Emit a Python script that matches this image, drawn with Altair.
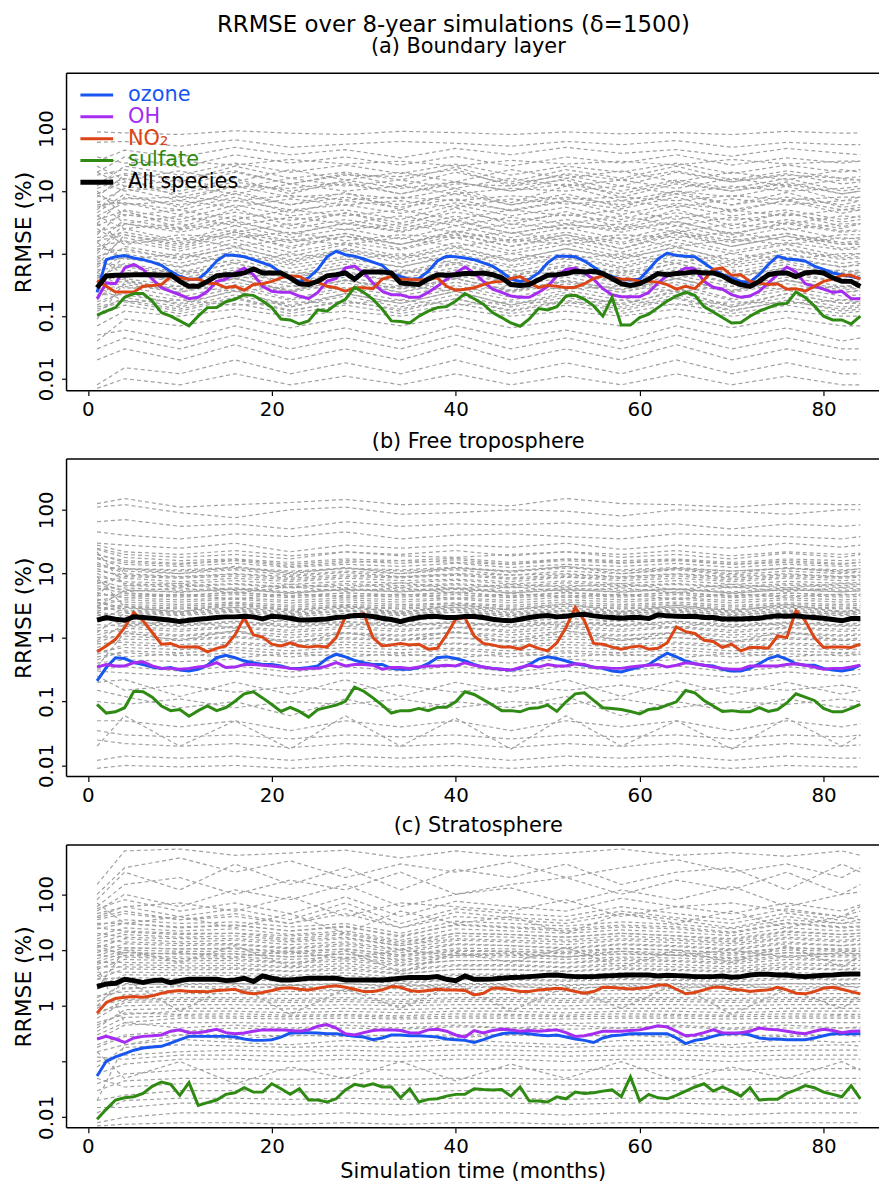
import altair as alt
import pandas as pd

FONT = "DejaVu Sans"
MONTHS = list(range(1, 85))
GRAY_MONTHS = [1, 4, 10, 16, 22, 28, 34, 40, 46, 52, 58, 64, 70, 76, 82, 84]
X_TICKS = [0, 20, 40, 60, 80]
Y_TICKS = [0.01, 0.1, 1, 10, 100]
LEGEND_LABELS = ["ozone", "OH", "NO₂", "sulfate", "All species"]
COLORS = ["#1756f0", "#a52cf0", "#dc4516", "#2e8a12", "#000000"]
LINE_WIDTHS = [3, 3, 3, 3, 5]
TITLE = "RRMSE over 8-year simulations (δ=1500)"
PANEL_TITLES = ["(a) Boundary layer", "(b) Free troposphere", "(c) Stratosphere"]
X_TITLE = "Simulation time (months)"
Y_TITLE = "RRMSE (%)"

# ---------------- (a) Boundary layer ----------------
A_OZONE = [0.24,0.80,0.89,0.93,0.85,0.80,0.73,0.65,0.52,0.43,0.39,0.39,
           0.52,0.76,0.96,0.93,0.89,0.80,0.71,0.63,0.49,0.41,0.36,0.41,
           0.56,0.89,1.09,0.96,0.91,0.82,0.73,0.65,0.48,0.43,0.39,0.40,
           0.52,0.76,0.91,0.89,0.85,0.80,0.71,0.63,0.51,0.39,0.36,0.39,
           0.49,0.71,0.91,0.91,0.89,0.76,0.61,0.48,0.43,0.39,0.38,0.39,
           0.56,0.82,1.02,0.93,0.91,0.89,0.71,0.56,0.46,0.41,0.36,0.35,
           0.46,0.67,0.91,0.82,0.80,0.76,0.63,0.56,0.49,0.46,0.43,0.40]
A_OH = [0.19,0.34,0.33,0.59,0.67,0.56,0.39,0.285,0.25,0.22,0.19,0.20,
        0.25,0.36,0.39,0.49,0.59,0.46,0.30,0.25,0.24,0.24,0.21,0.19,
        0.24,0.36,0.40,0.59,0.63,0.49,0.34,0.25,0.22,0.22,0.20,0.20,
        0.24,0.30,0.39,0.49,0.61,0.49,0.36,0.27,0.24,0.21,0.20,0.20,
        0.24,0.30,0.44,0.56,0.59,0.49,0.39,0.275,0.22,0.205,0.205,0.205,
        0.24,0.34,0.44,0.49,0.59,0.57,0.36,0.29,0.27,0.22,0.20,0.21,
        0.25,0.34,0.46,0.61,0.51,0.33,0.30,0.27,0.24,0.25,0.19,0.19]
A_NO2 = [0.37,0.30,0.243,0.243,0.243,0.30,0.31,0.32,0.43,0.41,0.39,0.39,
         0.34,0.33,0.285,0.30,0.26,0.32,0.33,0.36,0.41,0.44,0.43,0.36,
         0.35,0.30,0.285,0.25,0.285,0.285,0.275,0.39,0.43,0.39,0.39,0.38,
         0.39,0.41,0.30,0.26,0.27,0.285,0.32,0.35,0.36,0.40,0.43,0.35,
         0.285,0.31,0.30,0.285,0.29,0.33,0.40,0.44,0.41,0.39,0.39,0.36,
         0.36,0.35,0.32,0.27,0.30,0.275,0.38,0.56,0.59,0.45,0.46,0.36,
         0.34,0.32,0.33,0.27,0.275,0.25,0.30,0.36,0.39,0.45,0.45,0.39]
A_SULF = [0.104,0.12,0.137,0.20,0.23,0.23,0.175,0.114,0.10,0.084,0.070,0.10,
          0.137,0.137,0.17,0.186,0.22,0.215,0.175,0.137,0.09,0.087,0.075,0.084,
          0.126,0.12,0.155,0.186,0.29,0.24,0.186,0.13,0.084,0.082,0.078,0.10,
          0.12,0.137,0.142,0.175,0.23,0.19,0.155,0.114,0.095,0.078,0.069,0.09,
          0.132,0.126,0.142,0.21,0.215,0.186,0.146,0.10,0.20,0.072,0.072,0.095,
          0.108,0.137,0.175,0.21,0.243,0.215,0.142,0.117,0.095,0.078,0.079,0.10,
          0.12,0.137,0.155,0.16,0.243,0.20,0.146,0.10,0.087,0.087,0.075,0.10]
A_ALL = [0.285,0.44,0.45,0.45,0.46,0.46,0.46,0.45,0.46,0.36,0.30,0.30,
         0.36,0.44,0.46,0.46,0.49,0.57,0.49,0.49,0.49,0.41,0.33,0.32,
         0.36,0.44,0.46,0.49,0.39,0.51,0.51,0.51,0.49,0.34,0.33,0.32,
         0.39,0.46,0.45,0.46,0.48,0.48,0.49,0.46,0.41,0.32,0.31,0.32,
         0.38,0.45,0.46,0.48,0.52,0.51,0.52,0.48,0.40,0.33,0.31,0.33,
         0.39,0.48,0.46,0.48,0.49,0.51,0.49,0.49,0.44,0.36,0.32,0.30,
         0.36,0.46,0.49,0.49,0.43,0.49,0.51,0.49,0.41,0.36,0.36,0.30]
A_GRAY = [
    [88, 85, 80, 92, 84, 80, 90, 86, 80, 88, 82, 86, 80, 90, 84, 85],
    [60, 62, 52, 66, 50, 56, 62, 58, 52, 62, 55, 64, 50, 60, 55, 55],
    [30, 45, 35, 50, 38, 46, 34, 48, 38, 50, 40, 46, 36, 48, 40, 38],
    [20, 35, 24, 38, 28, 35, 26, 36, 25, 35, 28, 38, 26, 34, 28, 30],
    [12, 25, 18, 28, 20, 26, 19, 27, 18, 25, 20, 28, 19, 26, 20, 22],
    [25, 15, 21, 14, 22, 15, 20, 14, 22, 16, 21, 14, 20, 15, 22, 20],
    [8, 18, 12, 20, 13, 19, 12, 20, 13, 18, 12, 20, 14, 19, 13, 14],
    [15, 10, 12, 9, 13, 10, 12, 9, 11, 10, 12, 9, 12, 10, 11, 12],
    [5, 12, 9, 14, 10, 13, 9, 14, 10, 13, 9, 14, 10, 13, 9, 10],
    [7, 3, 4, 2.8, 3.8, 3, 4, 2.8, 3.8, 3, 4, 2.8, 3.8, 3, 4, 3.8],
    [3, 8, 6, 9, 6, 8, 6, 9, 6, 8, 6, 9, 6, 8, 6, 7],
    [6, 6.5, 4.2, 7, 5, 6, 4.4, 6.5, 5, 7, 4.2, 6.4, 5, 7, 4.4, 5],
    [10, 4, 5, 3.5, 5, 4, 5, 3.5, 5, 4, 5, 3.5, 5, 4, 5, 5],
    [2, 5, 3.5, 6, 4, 5, 3.5, 6, 4, 5.5, 3.5, 6, 4, 5, 3.5, 4],
    [4, 2.5, 3, 2.2, 3, 2.4, 3, 2.2, 3, 2.5, 3, 2.2, 3, 2.4, 3, 3],
    [1.5, 3.5, 2.5, 4, 2.5, 3.5, 2.5, 4, 2.5, 3.5, 2.5, 4, 2.5, 3.5, 2.5, 3],
    [3, 1.5, 2, 1.8, 2.2, 1.6, 2, 1.8, 2.2, 1.6, 2, 1.8, 2.2, 1.6, 2, 2],
    [1, 2.5, 1.6, 2.8, 1.8, 2.5, 1.7, 2.8, 1.8, 2.6, 1.7, 2.8, 1.8, 2.6, 1.7, 1.8],
    [2.5, 1.4, 1.8, 1.3, 1.7, 1.4, 1.8, 1.3, 1.7, 1.4, 1.8, 1.3, 1.7, 1.4, 1.8, 1.7],
    [0.8, 1.8, 1.2, 2, 1.3, 1.9, 1.2, 2, 1.3, 1.8, 1.2, 2, 1.3, 1.9, 1.2, 1.3],
    [0.6, 1.3, 0.9, 1.5, 0.9, 1.4, 0.9, 1.5, 1, 1.4, 0.9, 1.5, 1, 1.4, 0.9, 1],
    [1.5, 0.8, 1, 0.7, 1, 0.8, 1, 0.7, 1, 0.8, 1, 0.7, 1, 0.8, 1, 1],
    [0.5, 1, 0.7, 1.1, 0.7, 1.1, 0.7, 1.1, 0.75, 1, 0.7, 1.1, 0.7, 1, 0.7, 0.75],
    [0.35, 0.9, 0.62, 1, 0.65, 0.9, 0.6, 1, 0.65, 0.9, 0.62, 1, 0.65, 0.9, 0.6, 0.7],
    [0.4, 0.7, 0.5, 0.8, 0.5, 0.75, 0.5, 0.8, 0.5, 0.75, 0.5, 0.8, 0.5, 0.75, 0.5, 0.55],
    [0.9, 0.45, 0.55, 0.4, 0.5, 0.45, 0.55, 0.4, 0.55, 0.45, 0.55, 0.4, 0.55, 0.45, 0.55, 0.5],
    [0.3, 0.55, 0.4, 0.6, 0.4, 0.6, 0.4, 0.6, 0.4, 0.55, 0.4, 0.6, 0.4, 0.6, 0.4, 0.45],
    [0.25, 0.4, 0.3, 0.45, 0.3, 0.42, 0.3, 0.45, 0.3, 0.42, 0.3, 0.45, 0.3, 0.42, 0.3, 0.32],
    [0.5, 0.28, 0.3, 0.25, 0.3, 0.27, 0.3, 0.25, 0.3, 0.27, 0.3, 0.25, 0.3, 0.27, 0.3, 0.3],
    [0.2, 0.32, 0.24, 0.35, 0.24, 0.34, 0.24, 0.35, 0.24, 0.33, 0.24, 0.35, 0.24, 0.33, 0.24, 0.26],
    [0.15, 0.25, 0.18, 0.28, 0.18, 0.26, 0.18, 0.28, 0.18, 0.26, 0.18, 0.28, 0.18, 0.26, 0.18, 0.2],
    [0.3, 0.17, 0.18, 0.15, 0.17, 0.16, 0.18, 0.15, 0.17, 0.16, 0.18, 0.15, 0.17, 0.16, 0.18, 0.17],
    [0.12, 0.2, 0.14, 0.22, 0.14, 0.21, 0.14, 0.22, 0.14, 0.2, 0.14, 0.22, 0.14, 0.2, 0.14, 0.15],
    [0.1, 0.15, 0.11, 0.16, 0.11, 0.15, 0.11, 0.16, 0.11, 0.15, 0.11, 0.16, 0.11, 0.15, 0.11, 0.12],
    [0.07, 0.12, 0.1, 0.13, 0.1, 0.12, 0.1, 0.13, 0.1, 0.12, 0.1, 0.13, 0.1, 0.12, 0.1, 0.1],
    [0.05, 0.06, 0.04, 0.07, 0.045, 0.065, 0.04, 0.07, 0.045, 0.06, 0.04, 0.07, 0.045, 0.065, 0.04, 0.045],
    [0.03, 0.045, 0.03, 0.05, 0.03, 0.045, 0.03, 0.05, 0.03, 0.045, 0.03, 0.05, 0.03, 0.045, 0.03, 0.03],
    [0.02, 0.03, 0.02, 0.035, 0.02, 0.03, 0.02, 0.035, 0.02, 0.03, 0.02, 0.035, 0.02, 0.03, 0.02, 0.02],
    [0.008, 0.015, 0.012, 0.02, 0.012, 0.018, 0.012, 0.02, 0.012, 0.018, 0.012, 0.02, 0.012, 0.018, 0.012, 0.012],
    [0.007, 0.01, 0.008, 0.012, 0.008, 0.011, 0.008, 0.012, 0.008, 0.011, 0.008, 0.012, 0.008, 0.011, 0.008, 0.008],
    [18, 22, 14, 25, 16, 20, 15, 24, 14, 22, 16, 25, 15, 21, 16, 17],
    [9, 14, 10, 16, 9, 15, 11, 14, 10, 16, 10, 15, 11, 16, 10, 11],
    [4.5, 9, 5.5, 10, 6, 9.5, 5, 10, 6, 9, 5.5, 10, 6, 9.5, 5.5, 6],
    [2.8, 4.2, 3.2, 4.6, 3.4, 4.4, 3.1, 4.6, 3.3, 4.2, 3.2, 4.5, 3.4, 4.3, 3.2, 3.5],
    [1.8, 2.2, 1.5, 2.4, 1.6, 2.1, 1.4, 2.3, 1.6, 2.2, 1.5, 2.4, 1.6, 2.1, 1.5, 1.6],
    [1.2, 1.1, 0.85, 1.25, 0.8, 1.2, 0.85, 1.3, 0.8, 1.2, 0.85, 1.25, 0.8, 1.2, 0.85, 0.9],
    [0.7, 0.65, 0.48, 0.7, 0.45, 0.68, 0.48, 0.72, 0.45, 0.66, 0.48, 0.7, 0.45, 0.68, 0.48, 0.5],
    [0.45, 0.38, 0.26, 0.4, 0.25, 0.38, 0.27, 0.4, 0.25, 0.38, 0.26, 0.4, 0.25, 0.38, 0.26, 0.28],
    [0.22, 0.22, 0.16, 0.25, 0.15, 0.23, 0.16, 0.25, 0.15, 0.22, 0.16, 0.24, 0.15, 0.23, 0.16, 0.17],
    [0.13, 0.17, 0.12, 0.19, 0.12, 0.18, 0.12, 0.19, 0.12, 0.17, 0.12, 0.19, 0.12, 0.18, 0.12, 0.13],
    [35, 28, 30, 26, 32, 27, 30, 25, 31, 27, 30, 26, 32, 27, 30, 30],
    [5.5, 7.5, 8, 7, 8.5, 7.2, 8, 7, 8.4, 7.4, 8, 7, 8.5, 7.2, 8, 8],
    [1.1, 3, 2.2, 3.2, 2.1, 3, 2.2, 3.3, 2.1, 3, 2.2, 3.2, 2.1, 3, 2.2, 2.3],
    [0.18, 0.5, 0.36, 0.55, 0.34, 0.52, 0.35, 0.55, 0.34, 0.5, 0.36, 0.55, 0.34, 0.52, 0.35, 0.36],
    [0.04, 0.09, 0.07, 0.1, 0.065, 0.095, 0.07, 0.1, 0.065, 0.09, 0.07, 0.1, 0.065, 0.095, 0.07, 0.07],
]
A_GRAY_EXTRA = [
    [14, 19, 16, 21, 13, 18, 17, 22, 12, 19, 15, 21, 14, 18, 16, 15],
    [11, 16, 8, 12, 11, 14, 9, 13, 12, 15, 8, 13, 10, 14, 9, 10],
    [6.5, 11, 7, 12, 8, 9, 7.5, 11, 6.5, 12, 7, 10, 8, 12, 7, 8],
    [4, 6.5, 5, 8, 4.5, 7, 5.5, 7.5, 4.8, 6.8, 5.2, 8, 4.6, 7.2, 5, 5.5],
    [3.5, 4.8, 2.6, 5.2, 2.8, 4.5, 2.7, 5.4, 2.9, 4.7, 2.6, 5.1, 2.8, 4.6, 2.7, 3],
    [2.2, 3, 2.4, 3.4, 2, 3.1, 2.3, 3.5, 2.1, 2.9, 2.4, 3.3, 2, 3.2, 2.3, 2.4],
    [1.6, 2, 1.3, 2.2, 1.2, 1.9, 1.4, 2.1, 1.3, 2, 1.2, 2.2, 1.3, 1.9, 1.4, 1.4],
    [1.3, 1.6, 1.1, 1.7, 1.05, 1.5, 1.15, 1.8, 1.1, 1.6, 1.05, 1.7, 1.1, 1.5, 1.15, 1.2],
    [0.9, 1.2, 0.8, 1.3, 0.75, 1.15, 0.8, 1.25, 0.78, 1.2, 0.8, 1.3, 0.75, 1.15, 0.8, 0.85],
    [0.75, 0.85, 0.6, 0.95, 0.58, 0.82, 0.62, 0.9, 0.6, 0.85, 0.58, 0.92, 0.6, 0.8, 0.62, 0.65],
    [0.55, 0.62, 0.44, 0.7, 0.42, 0.6, 0.46, 0.68, 0.43, 0.62, 0.44, 0.7, 0.42, 0.6, 0.45, 0.48],
    [0.42, 0.5, 0.34, 0.52, 0.33, 0.48, 0.35, 0.5, 0.33, 0.48, 0.34, 0.52, 0.33, 0.47, 0.35, 0.36],
    [0.32, 0.36, 0.27, 0.4, 0.26, 0.37, 0.28, 0.4, 0.26, 0.36, 0.27, 0.4, 0.26, 0.37, 0.28, 0.29],
    [0.28, 0.3, 0.2, 0.32, 0.19, 0.29, 0.21, 0.31, 0.2, 0.3, 0.2, 0.32, 0.19, 0.29, 0.21, 0.22],
    [0.17, 0.24, 0.15, 0.26, 0.14, 0.23, 0.16, 0.25, 0.15, 0.24, 0.15, 0.26, 0.14, 0.23, 0.16, 0.16],
    [0.14, 0.18, 0.13, 0.2, 0.125, 0.17, 0.13, 0.19, 0.125, 0.18, 0.13, 0.2, 0.125, 0.17, 0.13, 0.14],
    [8.5, 6, 7, 5.5, 7.5, 6, 7, 5.5, 7.5, 6.2, 7, 5.5, 7.5, 6, 7, 7],
    [20, 12, 15, 11, 16, 12, 15, 11, 16, 12, 15, 11, 16, 12, 15, 15],
    [0.65, 2, 1.4, 2.2, 1.5, 2.1, 1.4, 2.3, 1.5, 2, 1.4, 2.2, 1.5, 2.1, 1.4, 1.5],
    [0.09, 0.35, 0.24, 0.4, 0.25, 0.38, 0.24, 0.4, 0.25, 0.36, 0.24, 0.4, 0.25, 0.38, 0.24, 0.25],
]

# ---------------- (b) Free troposphere ----------------
B_OZONE = [0.21,0.34,0.485,0.47,0.405,0.38,0.346,0.33,0.34,0.31,0.30,0.32,
           0.37,0.485,0.53,0.485,0.43,0.405,0.38,0.38,0.36,0.33,0.33,0.34,
           0.36,0.47,0.55,0.50,0.44,0.405,0.38,0.38,0.33,0.32,0.32,0.34,
           0.39,0.485,0.50,0.47,0.43,0.38,0.346,0.33,0.32,0.31,0.33,0.38,
           0.46,0.50,0.47,0.43,0.39,0.37,0.346,0.33,0.30,0.29,0.32,0.346,
           0.38,0.47,0.57,0.50,0.43,0.39,0.37,0.36,0.32,0.30,0.30,0.33,
           0.39,0.47,0.52,0.46,0.39,0.37,0.37,0.33,0.31,0.30,0.32,0.37]
B_OH = [0.346,0.38,0.36,0.36,0.405,0.42,0.36,0.33,0.33,0.32,0.33,0.346,
        0.36,0.405,0.34,0.346,0.38,0.38,0.37,0.36,0.346,0.33,0.32,0.33,
        0.33,0.36,0.405,0.36,0.38,0.38,0.37,0.32,0.34,0.34,0.33,0.346,
        0.36,0.36,0.37,0.36,0.405,0.37,0.346,0.33,0.32,0.31,0.34,0.37,
        0.346,0.38,0.36,0.36,0.39,0.38,0.34,0.34,0.33,0.33,0.346,0.36,
        0.37,0.38,0.346,0.37,0.405,0.39,0.37,0.346,0.33,0.32,0.32,0.36,
        0.36,0.36,0.36,0.38,0.39,0.37,0.346,0.32,0.33,0.33,0.346,0.37]
B_NO2 = [0.60,0.74,0.94,1.44,2.47,1.83,1.20,0.79,0.81,0.71,0.71,0.71,
         0.60,0.68,0.74,1.10,2.06,1.10,1.02,0.79,0.74,0.83,0.74,0.71,
         0.74,0.71,1.00,2.11,2.27,2.38,1.00,0.74,0.77,0.81,0.77,0.79,
         0.66,0.68,1.10,1.94,2.06,1.06,0.81,0.77,0.71,0.71,0.66,0.77,
         0.68,0.62,0.83,1.44,2.96,1.83,0.81,0.79,0.71,0.66,0.71,0.74,
         0.66,0.68,0.83,1.47,1.24,1.16,0.91,0.87,0.70,0.79,0.62,0.70,
         0.70,0.68,1.06,1.00,2.62,1.83,1.00,0.70,0.71,0.71,0.70,0.79]
B_SULF = [0.09,0.066,0.069,0.080,0.145,0.142,0.117,0.085,0.072,0.075,0.059,0.072,
          0.085,0.072,0.080,0.101,0.132,0.142,0.114,0.09,0.070,0.081,0.070,0.057,
          0.075,0.081,0.088,0.101,0.168,0.145,0.114,0.088,0.066,0.072,0.072,0.078,
          0.072,0.081,0.081,0.099,0.142,0.129,0.107,0.088,0.072,0.072,0.069,0.078,
          0.080,0.088,0.070,0.099,0.132,0.137,0.104,0.080,0.078,0.075,0.070,0.064,
          0.075,0.078,0.088,0.099,0.149,0.137,0.104,0.085,0.070,0.072,0.069,0.069,
          0.080,0.070,0.075,0.095,0.132,0.117,0.104,0.078,0.069,0.069,0.078,0.09]
B_ALL = [1.87,2.06,1.94,1.87,2.11,2.06,2.01,1.94,1.87,1.78,1.87,1.94,
         1.99,2.06,2.11,2.11,2.16,2.11,1.96,2.16,2.11,2.01,1.89,1.89,
         1.92,1.96,2.06,2.11,2.22,2.22,2.14,2.01,1.92,1.78,1.94,2.06,
         2.14,2.14,2.06,2.06,2.14,2.14,2.06,1.94,1.87,1.83,1.94,2.06,
         2.16,2.22,2.11,2.16,2.27,2.32,2.19,2.11,2.06,2.01,2.06,2.06,
         1.99,2.27,2.19,2.16,2.14,2.16,2.06,2.06,1.96,1.96,1.96,1.99,
         2.01,2.11,2.19,2.16,2.19,2.11,2.06,2.01,1.92,1.83,1.99,1.99]
B_GRAY = [
    [125, 150, 110, 120, 130, 145, 120, 125, 115, 150, 125, 120, 110, 125, 120, 120],
    [110, 120, 90, 75, 100, 110, 85, 90, 100, 95, 80, 100, 95, 85, 100, 100],
    [65, 70, 55, 60, 50, 65, 55, 60, 58, 62, 55, 60, 50, 60, 55, 58],
    [45, 40, 35, 42, 38, 45, 35, 40, 42, 38, 35, 42, 40, 38, 35, 38],
    [30, 28, 25, 30, 22, 28, 25, 28, 26, 30, 24, 28, 25, 30, 26, 28],
    [25, 20, 18, 20, 17, 22, 19, 18, 20, 22, 18, 20, 17, 21, 18, 20],
    [20, 15, 14, 16, 13, 15, 16, 15, 14, 17, 15, 16, 14, 15, 14, 15],
    [18, 12, 11, 12, 10.5, 12, 11, 12, 11, 13, 11, 12, 11, 12, 11, 12],
    [15, 10, 9, 10, 9, 10.5, 9, 10, 9.5, 10, 9, 10, 9, 10, 9, 9.5],
    [12, 8.5, 7.5, 8.5, 7.5, 8.5, 7.8, 8.2, 7.5, 8.8, 7.8, 8.5, 7.5, 8.5, 7.8, 8],
    [10, 7, 6.5, 7, 6.2, 7, 6.5, 7, 6.3, 7.2, 6.5, 7, 6.2, 7, 6.5, 6.8],
    [8, 6, 5.5, 6, 5.2, 5.8, 5.5, 6, 5.3, 6, 5.5, 5.8, 5.2, 6, 5.5, 5.6],
    [6, 5, 4.6, 5, 4.5, 5, 4.6, 5, 4.5, 5.1, 4.6, 5, 4.5, 5, 4.6, 4.8],
    [5, 4.2, 3.9, 4.2, 3.8, 4.2, 3.9, 4.2, 3.8, 4.3, 3.9, 4.2, 3.8, 4.2, 3.9, 4],
    [4, 3.6, 3.3, 3.6, 3.2, 3.6, 3.3, 3.5, 3.2, 3.6, 3.3, 3.6, 3.2, 3.5, 3.3, 3.4],
    [3.5, 3, 2.8, 3, 2.7, 3, 2.8, 3, 2.7, 3.1, 2.8, 3, 2.7, 3, 2.8, 2.9],
    [3, 2.6, 2.4, 2.6, 2.3, 2.6, 2.4, 2.5, 2.3, 2.6, 2.4, 2.6, 2.3, 2.5, 2.4, 2.5],
    [2.5, 2.2, 2, 2.2, 1.9, 2.2, 2, 2.1, 1.9, 2.2, 2, 2.2, 1.9, 2.1, 2, 2],
    [2, 1.8, 1.6, 1.8, 1.6, 1.8, 1.6, 1.7, 1.6, 1.8, 1.6, 1.8, 1.6, 1.7, 1.6, 1.7],
    [1.6, 1.5, 1.35, 1.5, 1.3, 1.5, 1.35, 1.45, 1.3, 1.5, 1.35, 1.5, 1.3, 1.45, 1.35, 1.4],
    [1.3, 1.25, 1.1, 1.25, 1.1, 1.2, 1.1, 1.2, 1.1, 1.25, 1.1, 1.2, 1.1, 1.2, 1.1, 1.15],
    [1, 1.05, 0.95, 1.05, 0.9, 1, 0.95, 1, 0.9, 1.05, 0.95, 1, 0.9, 1, 0.95, 0.95],
    [0.8, 0.85, 0.78, 0.85, 0.75, 0.85, 0.78, 0.82, 0.75, 0.85, 0.78, 0.85, 0.75, 0.82, 0.78, 0.8],
    [0.6, 0.7, 0.65, 0.7, 0.62, 0.7, 0.65, 0.68, 0.62, 0.7, 0.65, 0.7, 0.62, 0.68, 0.65, 0.66],
    [0.5, 0.58, 0.52, 0.58, 0.5, 0.56, 0.52, 0.56, 0.5, 0.58, 0.52, 0.56, 0.5, 0.56, 0.52, 0.54],
    [0.4, 0.45, 0.42, 0.46, 0.4, 0.45, 0.42, 0.45, 0.4, 0.46, 0.42, 0.45, 0.4, 0.45, 0.42, 0.43],
    [0.3, 0.28, 0.25, 0.3, 0.24, 0.28, 0.26, 0.29, 0.25, 0.3, 0.25, 0.28, 0.24, 0.29, 0.25, 0.27],
    [0.2, 0.22, 0.12, 0.2, 0.13, 0.22, 0.12, 0.2, 0.14, 0.22, 0.12, 0.21, 0.13, 0.2, 0.13, 0.15],
    [0.15, 0.12, 0.08, 0.1, 0.06, 0.11, 0.07, 0.1, 0.08, 0.12, 0.06, 0.1, 0.07, 0.11, 0.08, 0.09],
    [0.05, 0.05, 0.04, 0.05, 0.035, 0.05, 0.04, 0.05, 0.035, 0.05, 0.04, 0.05, 0.035, 0.05, 0.04, 0.045],
    [0.035, 0.03, 0.028, 0.03, 0.026, 0.03, 0.028, 0.03, 0.026, 0.03, 0.028, 0.03, 0.026, 0.03, 0.028, 0.03],
    [0.025, 0.022, 0.02, 0.022, 0.019, 0.022, 0.02, 0.022, 0.019, 0.022, 0.02, 0.022, 0.019, 0.022, 0.02, 0.021],
    [0.012, 0.014, 0.013, 0.014, 0.012, 0.014, 0.013, 0.014, 0.012, 0.014, 0.013, 0.014, 0.012, 0.014, 0.013, 0.013],
    [0.009, 0.01, 0.0095, 0.01, 0.009, 0.01, 0.0095, 0.01, 0.009, 0.01, 0.0095, 0.01, 0.009, 0.01, 0.0095, 0.0095],
    [0.02, 0.06, 0.02, 0.05, 0.018, 0.06, 0.02, 0.055, 0.018, 0.06, 0.02, 0.05, 0.018, 0.055, 0.02, 0.03],
    [9, 3, 2.5, 3.5, 2.6, 3.2, 2.4, 3.3, 2.7, 3.4, 2.5, 3.2, 2.6, 3.3, 2.5, 2.8],
    [0.35, 1.2, 0.9, 1.3, 0.8, 1.2, 0.9, 1.25, 0.85, 1.3, 0.9, 1.2, 0.85, 1.25, 0.9, 1],
    [22, 6.5, 7, 5.5, 6.8, 6, 7.2, 5.8, 6.8, 6.2, 7, 5.6, 6.8, 6, 7, 6.8],
    [0.25, 0.15, 0.18, 0.14, 0.17, 0.15, 0.18, 0.14, 0.17, 0.15, 0.18, 0.14, 0.17, 0.15, 0.18, 0.16],
    [4.5, 12, 10, 13, 10, 12.5, 10, 12.5, 10.5, 13, 10, 12, 10, 12.5, 10.5, 11],
    [7, 9, 8.5, 9.2, 8, 9, 8.6, 9.4, 8.2, 9, 8.4, 9.2, 8, 9, 8.5, 8.8],
    [5.5, 6.5, 6.2, 6.8, 6, 6.6, 6.1, 6.7, 6, 6.6, 6.2, 6.8, 6, 6.6, 6.1, 6.4],
    [3.8, 4.6, 4.3, 4.7, 4.2, 4.6, 4.3, 4.7, 4.2, 4.6, 4.3, 4.7, 4.2, 4.6, 4.3, 4.4],
    [2.8, 3.3, 3.1, 3.4, 3, 3.3, 3.1, 3.4, 3, 3.3, 3.1, 3.4, 3, 3.3, 3.1, 3.2],
    [1.2, 2.4, 2.2, 2.5, 2.1, 2.4, 2.2, 2.5, 2.1, 2.4, 2.2, 2.5, 2.1, 2.4, 2.2, 2.3],
    [14, 11, 10, 11.5, 9.5, 11, 10, 11.5, 9.5, 11, 10, 11.5, 9.5, 11, 10, 10.5],
    [0.9, 1.6, 1.5, 1.7, 1.45, 1.65, 1.5, 1.7, 1.45, 1.65, 1.5, 1.7, 1.45, 1.65, 1.5, 1.55],
    [0.7, 0.95, 0.9, 1, 0.85, 0.95, 0.9, 1, 0.85, 0.95, 0.9, 1, 0.85, 0.95, 0.9, 0.9],
    [0.45, 0.62, 0.58, 0.64, 0.56, 0.62, 0.58, 0.64, 0.56, 0.62, 0.58, 0.64, 0.56, 0.62, 0.58, 0.6],
    [17, 14, 13, 14.5, 12.5, 14, 13, 14.5, 12.5, 14, 13, 14.5, 12.5, 14, 13, 13.5],
    [3, 5.5, 5.2, 5.7, 5, 5.6, 5.2, 5.7, 5, 5.6, 5.2, 5.7, 5, 5.6, 5.2, 5.4],
    [24, 18, 16, 17, 15, 17, 16, 17.5, 15, 17, 16, 17, 15, 17, 16, 16.5],
    [0.32, 0.35, 0.3, 0.36, 0.29, 0.35, 0.3, 0.36, 0.29, 0.35, 0.3, 0.36, 0.29, 0.35, 0.3, 0.32],
    [1.8, 2.9, 2.6, 2.95, 2.5, 2.9, 2.6, 2.95, 2.5, 2.9, 2.6, 2.95, 2.5, 2.9, 2.6, 2.7],
    [0.1, 0.09, 0.11, 0.08, 0.1, 0.09, 0.11, 0.08, 0.1, 0.09, 0.11, 0.08, 0.1, 0.09, 0.11, 0.1],
]
B_GRAY_EXTRA = [
    [9, 7.5, 7, 7.8, 6.8, 7.6, 7.1, 7.9, 6.9, 7.7, 7, 7.8, 6.8, 7.6, 7.1, 7.3],
    [6.5, 5.6, 5.1, 5.8, 4.9, 5.7, 5.2, 5.9, 5, 5.7, 5.1, 5.8, 4.9, 5.7, 5.2, 5.4],
    [4.5, 4.9, 4.5, 5.2, 4.4, 5, 4.6, 5.2, 4.4, 5, 4.5, 5.2, 4.4, 5, 4.6, 4.8],
    [3.2, 3.9, 3.6, 4, 3.5, 3.9, 3.6, 4, 3.5, 3.9, 3.6, 4, 3.5, 3.9, 3.6, 3.7],
    [2.6, 3.1, 2.9, 3.2, 2.8, 3.1, 2.9, 3.2, 2.8, 3.1, 2.9, 3.2, 2.8, 3.1, 2.9, 3],
    [2.2, 2.5, 2.3, 2.7, 2.2, 2.6, 2.3, 2.7, 2.2, 2.6, 2.3, 2.7, 2.2, 2.6, 2.3, 2.4],
    [1.8, 2, 1.8, 2.1, 1.75, 2, 1.8, 2.1, 1.75, 2, 1.8, 2.1, 1.75, 2, 1.8, 1.9],
    [1.4, 1.7, 1.55, 1.8, 1.5, 1.75, 1.55, 1.8, 1.5, 1.75, 1.55, 1.8, 1.5, 1.75, 1.55, 1.6],
    [1.1, 1.4, 1.25, 1.45, 1.2, 1.4, 1.25, 1.45, 1.2, 1.4, 1.25, 1.45, 1.2, 1.4, 1.25, 1.3],
    [0.85, 1.15, 1.05, 1.2, 1, 1.15, 1.05, 1.2, 1, 1.15, 1.05, 1.2, 1, 1.15, 1.05, 1.1],
    [0.55, 0.78, 0.72, 0.8, 0.7, 0.78, 0.72, 0.8, 0.7, 0.78, 0.72, 0.8, 0.7, 0.78, 0.72, 0.74],
    [11, 9.5, 8.8, 9.8, 8.5, 9.6, 8.9, 9.8, 8.6, 9.6, 8.8, 9.8, 8.5, 9.6, 8.9, 9.2],
    [13, 12, 11.5, 12.5, 11, 12.2, 11.5, 12.6, 11, 12.2, 11.5, 12.5, 11, 12.2, 11.5, 11.8],
    [20, 16, 14.5, 16.5, 14, 16, 14.5, 16.5, 14, 16, 14.5, 16.5, 14, 16, 14.5, 15],
    [5, 4.2, 4.8, 4, 4.9, 4.3, 4.8, 4.1, 4.9, 4.3, 4.8, 4, 4.9, 4.3, 4.8, 4.6],
    [2.4, 1.5, 1.9, 1.4, 1.95, 1.5, 1.9, 1.4, 1.95, 1.5, 1.9, 1.4, 1.95, 1.5, 1.9, 1.8],
    [7.5, 5.2, 6, 5, 6.2, 5.3, 6, 5, 6.2, 5.3, 6, 5, 6.2, 5.3, 6, 5.8],
    [0.65, 0.5, 0.56, 0.48, 0.57, 0.5, 0.56, 0.48, 0.57, 0.5, 0.56, 0.48, 0.57, 0.5, 0.56, 0.55],
    [3.6, 2.7, 2.5, 2.8, 2.4, 2.7, 2.5, 2.8, 2.4, 2.7, 2.5, 2.8, 2.4, 2.7, 2.5, 2.6],
    [28, 22, 20, 23, 19, 22, 20, 23, 19, 22, 20, 23, 19, 22, 20, 21],
]

# ---------------- (c) Stratosphere ----------------
C_OZONE = [0.055,0.101,0.121,0.139,0.16,0.175,0.183,0.188,0.215,0.247,0.283,0.283,
           0.283,0.283,0.283,0.275,0.254,0.24,0.24,0.247,0.275,0.325,0.33,0.33,
           0.325,0.316,0.316,0.30,0.283,0.275,0.247,0.265,0.30,0.30,0.29,0.29,
           0.283,0.275,0.254,0.247,0.24,0.22,0.247,0.283,0.316,0.33,0.325,0.316,
           0.30,0.29,0.30,0.275,0.254,0.24,0.22,0.265,0.29,0.30,0.316,0.316,
           0.316,0.316,0.316,0.265,0.21,0.24,0.254,0.283,0.316,0.316,0.325,0.30,
           0.265,0.254,0.254,0.247,0.247,0.247,0.265,0.29,0.316,0.316,0.316,0.316]
C_OH = [0.254,0.283,0.254,0.22,0.265,0.283,0.29,0.30,0.35,0.37,0.33,0.33,
        0.35,0.38,0.33,0.316,0.325,0.35,0.37,0.37,0.37,0.36,0.35,0.37,
        0.43,0.46,0.40,0.316,0.30,0.33,0.36,0.37,0.37,0.36,0.33,0.325,
        0.37,0.38,0.35,0.30,0.275,0.36,0.325,0.36,0.38,0.37,0.35,0.36,
        0.35,0.36,0.37,0.33,0.283,0.29,0.316,0.35,0.35,0.35,0.36,0.37,
        0.40,0.44,0.416,0.35,0.29,0.30,0.33,0.37,0.33,0.325,0.33,0.35,
        0.40,0.38,0.37,0.35,0.33,0.316,0.35,0.38,0.36,0.33,0.35,0.355]
C_NO2 = [0.74,1.15,1.35,1.43,1.47,1.43,1.51,1.68,1.80,1.88,1.80,1.80,
         1.78,1.88,1.93,1.98,1.73,1.64,1.73,1.88,2.07,2.10,1.98,1.93,
         2.07,2.21,2.28,2.15,1.98,1.80,1.80,1.93,2.21,2.15,1.88,1.80,
         1.88,1.98,1.93,1.93,1.88,1.57,1.68,2.07,2.07,1.93,1.80,1.80,
         1.93,1.98,2.07,1.98,1.80,1.68,1.80,2.15,2.13,2.07,2.01,2.07,
         2.15,2.37,2.37,1.98,1.64,1.73,1.93,2.15,2.15,1.98,1.93,1.80,
         1.88,1.93,2.15,1.93,1.68,1.64,1.80,2.07,2.15,1.98,1.80,1.64]
C_SULF = [0.0092,0.0139,0.0204,0.0224,0.0234,0.0268,0.036,0.043,0.039,0.0247,0.042,0.0164,
          0.0183,0.0204,0.0258,0.0275,0.034,0.0283,0.0283,0.040,0.0325,0.0258,0.0325,0.0204,
          0.0204,0.0188,0.0215,0.031,0.039,0.036,0.040,0.035,0.035,0.0224,0.0325,0.0188,
          0.021,0.0215,0.024,0.0258,0.0258,0.0325,0.0316,0.031,0.0316,0.024,0.035,0.0196,
          0.0196,0.0188,0.0234,0.0215,0.0283,0.0268,0.0275,0.0295,0.031,0.0234,0.053,0.0196,
          0.0258,0.0224,0.0215,0.0247,0.0295,0.035,0.040,0.0295,0.035,0.0295,0.024,0.034,
          0.0204,0.021,0.021,0.0268,0.031,0.037,0.034,0.0283,0.0258,0.0234,0.037,0.0215]
C_ALL = [2.21,2.47,2.54,2.99,2.83,2.61,2.83,2.91,2.61,2.83,2.99,2.99,
         2.99,2.99,2.83,2.91,3.12,2.72,3.43,3.12,2.91,2.91,2.99,3.12,
         3.12,3.12,3.12,2.91,2.91,2.91,2.91,2.91,2.99,3.12,3.21,3.21,
         3.21,3.34,2.99,2.83,3.43,2.99,2.99,3.03,3.12,3.21,3.25,3.34,
         3.43,3.53,3.58,3.43,3.34,3.34,3.34,3.43,3.48,3.53,3.58,3.58,
         3.58,3.43,3.53,3.48,3.43,3.34,3.34,3.34,3.43,3.25,3.34,3.58,
         3.67,3.67,3.58,3.58,3.43,3.34,3.43,3.53,3.58,3.67,3.73,3.73]
C_GRAY = [
    [150, 600, 650, 500, 550, 620, 450, 600, 480, 550, 650, 500, 560, 480, 600, 500],
    [100, 300, 450, 250, 400, 200, 350, 250, 380, 200, 300, 420, 250, 350, 200, 300],
    [80, 250, 120, 350, 150, 300, 120, 280, 200, 350, 150, 250, 300, 120, 350, 250],
    [60, 150, 200, 100, 180, 120, 250, 100, 150, 200, 100, 180, 120, 250, 100, 150],
    [50, 100, 60, 120, 80, 150, 60, 100, 130, 70, 120, 80, 140, 60, 100, 110],
    [40, 60, 70, 50, 90, 40, 70, 60, 50, 80, 40, 60, 70, 50, 40, 60],
    [35, 45, 35, 40, 30, 45, 25, 40, 35, 30, 45, 35, 25, 40, 30, 35],
    [30, 30, 25, 28, 22, 26, 18, 28, 25, 22, 26, 24, 20, 30, 25, 26],
    [25, 22, 20, 20, 18, 20, 14, 20, 19, 17, 20, 18, 16, 22, 19, 20],
    [20, 17, 16, 16, 14, 16, 12, 16, 15, 14, 16, 15, 13, 17, 15, 16],
    [15, 14, 13, 13, 11, 13, 10, 13, 12, 11, 13, 12, 10.5, 14, 12, 13],
    [12, 11, 10.5, 10.5, 9, 10.5, 8, 10, 9.5, 9, 10.5, 10, 8.5, 11, 10, 10],
    [10, 9, 8.5, 8.5, 7.5, 8.5, 6.5, 8, 8, 7.5, 8.5, 8, 7, 9, 8, 8],
    [8, 7.5, 7, 7, 6, 7, 5.5, 6.5, 6.5, 6, 7, 6.5, 6, 7.5, 6.5, 7],
    [6, 6, 5.8, 5.8, 5, 5.8, 4.5, 5.5, 5.5, 5, 5.8, 5.5, 5, 6, 5.5, 5.8],
    [5, 5, 4.8, 4.8, 4.2, 4.8, 3.8, 4.5, 4.5, 4.2, 4.8, 4.5, 4.2, 5, 4.5, 4.8],
    [4, 4, 3.9, 3.9, 3.5, 3.9, 3.2, 3.7, 3.7, 3.5, 3.9, 3.7, 3.5, 4, 3.7, 3.9],
    [3, 3.2, 3.1, 3.1, 2.9, 3.1, 2.7, 3, 3, 2.9, 3.1, 3, 2.9, 3.2, 3, 3.1],
    [2.5, 2.5, 2.4, 2.5, 2.3, 2.5, 2.2, 2.4, 2.4, 2.3, 2.5, 2.4, 2.3, 2.5, 2.4, 2.5],
    [1.5, 1.8, 1.9, 1.9, 1.8, 1.9, 1.7, 1.9, 1.9, 1.8, 1.9, 1.9, 1.8, 1.9, 1.9, 1.9],
    [1, 1.3, 1.4, 1.4, 1.35, 1.4, 1.3, 1.4, 1.4, 1.35, 1.4, 1.4, 1.35, 1.4, 1.4, 1.4],
    [0.8, 1, 1.05, 1.05, 1, 1.05, 1, 1.05, 1.05, 1, 1.05, 1.05, 1, 1.05, 1.05, 1.05],
    [0.5, 0.7, 0.8, 0.8, 0.75, 0.8, 0.75, 0.8, 0.8, 0.75, 0.8, 0.8, 0.75, 0.8, 0.8, 0.8],
    [0.3, 0.5, 0.6, 0.6, 0.58, 0.6, 0.58, 0.6, 0.6, 0.58, 0.6, 0.6, 0.58, 0.6, 0.6, 0.6],
    [0.2, 0.3, 0.35, 0.4, 0.38, 0.4, 0.38, 0.42, 0.4, 0.38, 0.4, 0.42, 0.38, 0.4, 0.4, 0.4],
    [0.15, 0.2, 0.25, 0.22, 0.2, 0.24, 0.22, 0.25, 0.22, 0.2, 0.24, 0.22, 0.2, 0.25, 0.22, 0.23],
    [0.1, 0.13, 0.15, 0.16, 0.15, 0.16, 0.15, 0.16, 0.16, 0.15, 0.16, 0.16, 0.15, 0.16, 0.16, 0.16],
    [0.06, 0.09, 0.11, 0.11, 0.1, 0.11, 0.1, 0.11, 0.11, 0.1, 0.11, 0.11, 0.1, 0.11, 0.11, 0.11],
    [0.04, 0.06, 0.07, 0.075, 0.07, 0.075, 0.07, 0.075, 0.075, 0.07, 0.075, 0.075, 0.07, 0.075, 0.075, 0.075],
    [0.03, 0.045, 0.05, 0.05, 0.048, 0.05, 0.048, 0.05, 0.05, 0.048, 0.05, 0.05, 0.048, 0.05, 0.05, 0.05],
    [0.02, 0.025, 0.03, 0.03, 0.028, 0.03, 0.028, 0.03, 0.03, 0.028, 0.03, 0.03, 0.028, 0.03, 0.03, 0.03],
    [0.015, 0.015, 0.018, 0.018, 0.017, 0.018, 0.017, 0.018, 0.018, 0.017, 0.018, 0.018, 0.017, 0.018, 0.018, 0.018],
    [0.008, 0.01, 0.012, 0.012, 0.011, 0.012, 0.011, 0.012, 0.012, 0.011, 0.012, 0.012, 0.011, 0.012, 0.012, 0.012],
    [0.007, 0.0075, 0.008, 0.008, 0.0075, 0.008, 0.0075, 0.008, 0.008, 0.0075, 0.008, 0.008, 0.0075, 0.008, 0.008, 0.008],
    [70, 30, 40, 25, 45, 20, 50, 30, 40, 20, 45, 30, 50, 25, 40, 35],
    [0.15, 0.05, 0.1, 0.04, 0.08, 0.05, 0.1, 0.045, 0.09, 0.05, 0.1, 0.045, 0.08, 0.05, 0.1, 0.07],
    [5, 0.5, 0.4, 0.45, 0.4, 0.45, 0.4, 0.45, 0.4, 0.45, 0.4, 0.45, 0.4, 0.45, 0.4, 0.42],
    [2, 10, 6, 12, 5, 10, 4, 9, 6, 11, 5, 10, 6, 12, 5, 8],
    [1, 3, 0.8, 2.5, 0.7, 2, 0.9, 2.5, 0.8, 2.2, 0.9, 2.5, 0.7, 2, 0.9, 1.5],
    [0.02, 0.2, 0.3, 0.25, 0.3, 0.28, 0.3, 0.27, 0.3, 0.28, 0.3, 0.27, 0.3, 0.28, 0.3, 0.28],
    [28, 35, 30, 32, 26, 30, 20, 33, 30, 27, 32, 29, 24, 35, 30, 31],
    [18, 25, 22, 24, 19, 22, 15, 24, 22, 20, 23, 21, 18, 25, 22, 23],
    [13, 19, 17, 18, 15, 17, 12, 18, 17, 15, 18, 16, 14, 19, 17, 18],
    [9, 13, 12, 12.5, 10.5, 12, 9, 12.5, 12, 10.5, 12.5, 11.5, 10, 13, 12, 12.5],
    [7, 10, 9.5, 9.5, 8.5, 9.5, 7.5, 9.5, 9.5, 8.5, 9.5, 9, 8, 10, 9.5, 9.5],
    [5.5, 8, 7.5, 7.5, 6.8, 7.5, 6, 7.5, 7.5, 6.8, 7.5, 7.2, 6.5, 8, 7.5, 7.5],
    [3.5, 5.5, 5.2, 5.3, 4.8, 5.2, 4.3, 5.2, 5.2, 4.8, 5.3, 5, 4.6, 5.5, 5.2, 5.3],
    [2.2, 3.6, 3.5, 3.5, 3.3, 3.5, 3, 3.5, 3.5, 3.3, 3.5, 3.4, 3.2, 3.6, 3.5, 3.5],
    [1.2, 2.1, 2.2, 2.2, 2.1, 2.2, 2, 2.2, 2.2, 2.1, 2.2, 2.2, 2.1, 2.2, 2.2, 2.2],
    [0.6, 1.15, 1.2, 1.2, 1.15, 1.2, 1.1, 1.2, 1.2, 1.15, 1.2, 1.2, 1.15, 1.2, 1.2, 1.2],
    [0.4, 0.85, 0.9, 0.9, 0.88, 0.9, 0.86, 0.9, 0.9, 0.88, 0.9, 0.9, 0.88, 0.9, 0.9, 0.9],
    [45, 60, 40, 55, 35, 70, 30, 55, 45, 40, 60, 45, 35, 55, 40, 50],
    [0.25, 0.45, 0.5, 0.5, 0.48, 0.5, 0.48, 0.5, 0.5, 0.48, 0.5, 0.5, 0.48, 0.5, 0.5, 0.5],
    [0.08, 0.18, 0.2, 0.19, 0.18, 0.19, 0.18, 0.2, 0.19, 0.18, 0.19, 0.2, 0.18, 0.19, 0.2, 0.19],
    [0.012, 0.02, 0.022, 0.022, 0.021, 0.022, 0.021, 0.022, 0.022, 0.021, 0.022, 0.022, 0.021, 0.022, 0.022, 0.022],
]
C_GRAY_EXTRA = [
    [24, 30, 26, 28, 22, 27, 17, 29, 26, 24, 28, 26, 21, 31, 26, 27],
    [16, 21, 19, 20, 16, 19, 13, 20, 19, 17, 20, 18, 15, 21, 19, 20],
    [11, 16, 14, 15, 12.5, 14, 10.5, 15, 14, 12.5, 15, 13.5, 12, 16, 14, 15],
    [8, 11, 10.5, 10.8, 9.5, 10.5, 8.2, 10.8, 10.5, 9.5, 10.8, 10, 9, 11, 10.5, 10.8],
    [6.2, 9, 8.5, 8.6, 7.6, 8.5, 6.8, 8.6, 8.5, 7.6, 8.6, 8.2, 7.3, 9, 8.5, 8.6],
    [4.5, 6.8, 6.4, 6.5, 5.8, 6.4, 5.2, 6.5, 6.4, 5.8, 6.5, 6.2, 5.6, 6.8, 6.4, 6.5],
    [3, 4.6, 4.4, 4.5, 4.1, 4.4, 3.7, 4.5, 4.4, 4.1, 4.5, 4.3, 4, 4.6, 4.4, 4.5],
    [2, 3, 2.9, 2.95, 2.75, 2.9, 2.5, 2.95, 2.9, 2.75, 2.95, 2.85, 2.7, 3, 2.9, 2.95],
    [1.4, 2.4, 2.5, 2.5, 2.4, 2.5, 2.3, 2.5, 2.5, 2.4, 2.5, 2.5, 2.4, 2.5, 2.5, 2.5],
    [0.9, 1.6, 1.65, 1.65, 1.6, 1.65, 1.55, 1.65, 1.65, 1.6, 1.65, 1.65, 1.6, 1.65, 1.65, 1.65],
    [0.7, 1.25, 1.3, 1.3, 1.25, 1.3, 1.2, 1.3, 1.3, 1.25, 1.3, 1.3, 1.25, 1.3, 1.3, 1.3],
    [0.45, 0.75, 0.7, 0.72, 0.68, 0.7, 0.66, 0.72, 0.7, 0.68, 0.72, 0.7, 0.68, 0.72, 0.7, 0.7],
    [0.35, 0.62, 0.66, 0.65, 0.64, 0.66, 0.62, 0.65, 0.66, 0.64, 0.65, 0.66, 0.64, 0.65, 0.66, 0.65],
    [38, 50, 35, 45, 30, 55, 25, 48, 38, 34, 50, 38, 30, 46, 34, 42],
    [55, 80, 50, 70, 45, 90, 40, 75, 60, 50, 85, 60, 45, 70, 50, 65],
    [12, 8, 9, 7.5, 9.5, 7, 10, 8, 9, 7.5, 9.5, 8, 10, 7.5, 9, 8.5],
    [3.5, 2, 2.3, 1.9, 2.4, 1.8, 2.5, 2, 2.3, 1.9, 2.4, 2, 2.5, 1.9, 2.3, 2.1],
    [0.18, 0.28, 0.3, 0.3, 0.29, 0.3, 0.29, 0.3, 0.3, 0.29, 0.3, 0.3, 0.29, 0.3, 0.3, 0.3],
    [0.12, 0.11, 0.13, 0.13, 0.125, 0.13, 0.125, 0.13, 0.13, 0.125, 0.13, 0.13, 0.125, 0.13, 0.13, 0.13],
    [0.05, 0.035, 0.04, 0.04, 0.038, 0.04, 0.038, 0.04, 0.04, 0.038, 0.04, 0.04, 0.038, 0.04, 0.04, 0.04],
]

X_DOMAIN = [-2.32, 86.03]
Y_DOMAINS = [[0.00645, 764], [0.0067, 620], [0.0065, 766]]
PLOT_W = 819
ONE = pd.DataFrame({"k": [0]})


def text_layer(label, x, y, size):
    return (alt.Chart(ONE)
            .mark_text(text=label, align="center", baseline="alphabetic",
                       fontSize=size, font=FONT, color="black")
            .encode(x=alt.value(x), y=alt.value(y)))


def frame_layers(height):
    rule = dict(color="black", strokeWidth=1.5)
    return [
        alt.Chart(ONE).mark_rule(**rule).encode(x=alt.value(0), x2=alt.value(PLOT_W), y=alt.value(0)),
        alt.Chart(ONE).mark_rule(**rule).encode(x=alt.value(0), x2=alt.value(PLOT_W), y=alt.value(height)),
        alt.Chart(ONE).mark_rule(**rule).encode(x=alt.value(0), y=alt.value(0), y2=alt.value(height)),
    ]


def make_panel(idx, series_values, gray_lines, height, title_x, title_y, with_legend, hide_tenth):
    rows = []
    for gid, line in enumerate(gray_lines):
        for m, v in zip(GRAY_MONTHS, line):
            rows.append({"month": m, "value": v, "line": gid})
    gdf = pd.DataFrame(rows)
    last = idx == 2

    x_axis = alt.Axis(values=X_TICKS, grid=False, domain=False, tickSize=5,
                      tickColor="black", tickWidth=1.2, labelFontSize=20,
                      labelFont=FONT, labelColor="black", labelPadding=4,
                      labelFlush=False, labelOverlap=False, titleFontSize=21,
                      titleFont=FONT, titleFontWeight="normal", titleColor="black",
                      titlePadding=4)
    label_expr = "datum.value == 0.1 ? '' : datum.label" if hide_tenth else "datum.label"
    y_axis = alt.Axis(values=Y_TICKS, format="~g", labelExpr=label_expr, grid=False,
                      domain=False, tickSize=5, tickColor="black", tickWidth=1.2,
                      labelFontSize=20, labelFont=FONT, labelColor="black",
                      labelAngle=270, labelAlign="center", labelBaseline="alphabetic",
                      labelPadding=9, labelFlush=False, labelOverlap=False,
                      titleFontSize=22, titleFont=FONT, titleFontWeight="normal",
                      titleColor="black", titlePadding=1)
    x_enc = alt.X("month:Q", scale=alt.Scale(domain=X_DOMAIN, nice=False, zero=False),
                  axis=x_axis, title=(X_TITLE if last else None))
    y_enc = alt.Y("value:Q", scale=alt.Scale(type="log", domain=Y_DOMAINS[idx], nice=False),
                  axis=y_axis, title=Y_TITLE)

    layers = [alt.Chart(gdf).mark_line(color="#a0a0a0", strokeWidth=1.2,
                                       strokeDash=[4, 3], clip=True)
              .encode(x=x_enc, y=y_enc, detail="line:N")]
    for vals, col, w in zip(series_values, COLORS, LINE_WIDTHS):
        df = pd.DataFrame({"month": MONTHS, "value": vals})
        layers.append(alt.Chart(df).mark_line(color=col, strokeWidth=w, clip=True)
                      .encode(x=x_enc, y=y_enc))
    if with_legend:
        for i, (lab, col, w) in enumerate(zip(LEGEND_LABELS, COLORS, LINE_WIDTHS)):
            ypix = 22 + 22 * i
            layers.append(alt.Chart(ONE).mark_rule(color=col, strokeWidth=w)
                          .encode(x=alt.value(14), x2=alt.value(47), y=alt.value(ypix)))
            layers.append(alt.Chart(ONE).mark_text(text=lab, align="left", baseline="middle",
                                                   fontSize=21, font=FONT, color=col)
                          .encode(x=alt.value(62), y=alt.value(ypix)))
        layers.append(text_layer(TITLE, 390, -42, 23))
    layers.append(text_layer(PANEL_TITLES[idx], title_x, title_y, 21))
    layers.extend(frame_layers(height))
    return alt.layer(*layers).properties(width=PLOT_W, height=height)


pa = make_panel(0, [A_OZONE, A_OH, A_NO2, A_SULF, A_ALL], A_GRAY + A_GRAY_EXTRA, 320, 405, -20, True, False)
pb = make_panel(1, [B_OZONE, B_OH, B_NO2, B_SULF, B_ALL], B_GRAY + B_GRAY_EXTRA, 320, 415, -11, False, False)
pc = make_panel(2, [C_OZONE, C_OH, C_NO2, C_SULF, C_ALL], C_GRAY + C_GRAY_EXTRA, 285, 415, -13, False, True)

chart = alt.vconcat(pa, pb, pc, spacing=69, bounds="flush").properties(
    padding={"left": 4, "top": 0, "right": 0, "bottom": 0},
).configure(font=FONT).configure_view(stroke="transparent")

chart.save("out.html", embed_options={"renderer": "svg", "actions": False})
